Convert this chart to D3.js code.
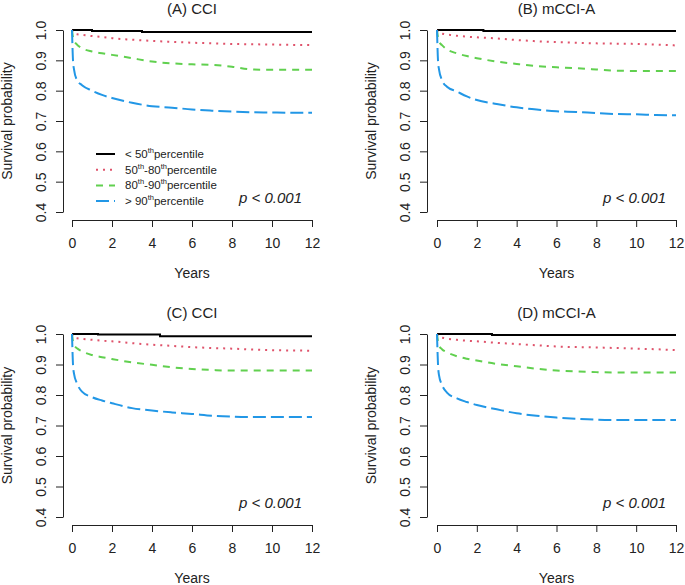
<!DOCTYPE html>
<html>
<head>
<meta charset="utf-8">
<script src="https://cdn.jsdelivr.net/npm/d3@7"></script>
<style>
  body { margin: 0; background: #fff; }
  svg { font-family: "Liberation Sans", Arial, sans-serif; }
</style>
</head>
<body>
<svg id="chart" width="685" height="585"></svg>
<script>
// follow-up times (years) shared by the coloured curves
const years = [0, 0.05, 0.1, 0.25, 0.5, 1, 1.5, 2, 3, 4, 5, 6, 7, 8, 9, 10, 11, 12];
const xTicks = [0, 2, 4, 6, 8, 10, 12];
const yTicks = [0.4, 0.5, 0.6, 0.7, 0.8, 0.9, 1.0];

const panelTitles = ['(A) CCI', '(B) mCCI-A', '(C) CCI', '(D) mCCI-A'];
const pLabel = 'p < 0.001';
// '^' toggles superscript
const legendLabels = ['< 50^th^percentile', '50^th^-80^th^percentile', '80^th^-90^th^percentile', '> 90^th^percentile'];

// < 50th percentile (step curve, own times)
const lt50TimesA = [0, 1, 3.5, 12];
const lt50A = [1, 0.997, 0.993, 0.993];
const lt50TimesB = [0, 2.33, 12];
const lt50B = [1, 0.997, 0.997];
const lt50TimesC = [0, 1.3, 4.4, 12];
const lt50C = [1, 0.998, 0.993, 0.993];
const lt50TimesD = [0, 2.76, 12];
const lt50D = [1, 0.997, 0.997];

// 50th-80th percentile
const p50to80A = [1, 0.99, 0.988, 0.986, 0.984, 0.98, 0.977, 0.973, 0.968, 0.964, 0.961, 0.958, 0.956, 0.954, 0.953, 0.952, 0.951, 0.95];
const p50to80B = [1, 0.992, 0.99, 0.988, 0.985, 0.981, 0.978, 0.976, 0.972, 0.967, 0.963, 0.96, 0.958, 0.956, 0.955, 0.954, 0.952, 0.949];
const p50to80C = [1, 0.99, 0.988, 0.986, 0.984, 0.981, 0.978, 0.976, 0.97, 0.965, 0.961, 0.957, 0.954, 0.952, 0.949, 0.947, 0.946, 0.945];
const p50to80D = [1, 0.992, 0.99, 0.988, 0.985, 0.981, 0.978, 0.976, 0.971, 0.967, 0.963, 0.959, 0.957, 0.956, 0.954, 0.952, 0.95, 0.947];

// 80th-90th percentile
const p80to90A = [1, 0.975, 0.965, 0.952, 0.94, 0.929, 0.923, 0.918, 0.907, 0.896, 0.89, 0.887, 0.885, 0.879, 0.87, 0.869, 0.869, 0.869];
const p80to90B = [1, 0.975, 0.962, 0.95, 0.936, 0.923, 0.914, 0.907, 0.896, 0.888, 0.881, 0.877, 0.874, 0.87, 0.866, 0.865, 0.865, 0.865];
const p80to90C = [1, 0.975, 0.965, 0.953, 0.943, 0.931, 0.924, 0.918, 0.907, 0.899, 0.891, 0.885, 0.882, 0.88, 0.88, 0.88, 0.88, 0.88];
const p80to90D = [1, 0.975, 0.962, 0.95, 0.94, 0.927, 0.919, 0.913, 0.902, 0.894, 0.886, 0.88, 0.877, 0.875, 0.874, 0.874, 0.874, 0.874];

// > 90th percentile
const gt90A = [1, 0.9, 0.87, 0.835, 0.818, 0.8, 0.786, 0.776, 0.76, 0.749, 0.744, 0.738, 0.734, 0.731, 0.729, 0.728, 0.727, 0.727];
const gt90B = [1, 0.9, 0.87, 0.835, 0.813, 0.797, 0.781, 0.769, 0.756, 0.745, 0.738, 0.732, 0.73, 0.726, 0.723, 0.722, 0.72, 0.719];
const gt90C = [1, 0.9, 0.87, 0.838, 0.811, 0.793, 0.782, 0.773, 0.757, 0.749, 0.743, 0.738, 0.732, 0.729, 0.728, 0.728, 0.728, 0.728];
const gt90D = [1, 0.9, 0.865, 0.833, 0.808, 0.789, 0.777, 0.767, 0.753, 0.74, 0.732, 0.726, 0.722, 0.719, 0.718, 0.718, 0.718, 0.718];

// line looks, same order as the legend
const styles = [
  { color: '#000000', dash: null, curve: d3.curveStepAfter },
  { color: '#DF536B', dash: '2,5', curve: d3.curveMonotoneX },
  { color: '#61D04F', dash: '7,6', curve: d3.curveMonotoneX },
  { color: '#2297E6', dash: '13,5', curve: d3.curveMonotoneX }
];

// where each panel sits on the page
const layout = [
  { left: 72, right: 312, top: 30, bottom: 212, axisX: 63, axisY: 220, legend: true },
  { left: 437, right: 676, top: 30, bottom: 212, axisX: 427, axisY: 220, legend: false },
  { left: 72, right: 312, top: 334, bottom: 517, axisX: 63, axisY: 525, legend: false },
  { left: 437, right: 676, top: 334, bottom: 517, axisX: 427, axisY: 525, legend: false }
];

const zip = (t, s) => t.map((d, i) => ({ t: d, s: s[i] }));
const panelSeries = [
  [zip(lt50TimesA, lt50A), zip(years, p50to80A), zip(years, p80to90A), zip(years, gt90A)],
  [zip(lt50TimesB, lt50B), zip(years, p50to80B), zip(years, p80to90B), zip(years, gt90B)],
  [zip(lt50TimesC, lt50C), zip(years, p50to80C), zip(years, p80to90C), zip(years, gt90C)],
  [zip(lt50TimesD, lt50D), zip(years, p50to80D), zip(years, p80to90D), zip(years, gt90D)]
];

const svg = d3.select('#chart');
const ink = '#222';

layout.forEach((p, k) => {
  const x = d3.scaleLinear().domain([0, 12]).range([p.left, p.right]);
  const y = d3.scaleLinear().domain([0.4, 1]).range([p.bottom, p.top]);
  const g = svg.append('g');
  const midX = (p.left + p.right) / 2;
  const midY = (p.top + p.bottom) / 2;

  // x axis
  g.append('g')
    .attr('transform', `translate(0,${p.axisY})`)
    .call(d3.axisBottom(x).tickValues(xTicks).tickSize(7).tickSizeOuter(0).tickFormat(d3.format('d')))
    .attr('font-family', null).attr('font-size', 14)
    .call(a => {
      a.select('.domain').attr('stroke', ink);
      a.selectAll('.tick line').attr('stroke', ink);
      a.selectAll('.tick text').attr('y', 28).attr('dy', null).attr('fill', ink);
    });

  // y axis, labels turned like base R
  g.append('g')
    .attr('transform', `translate(${p.axisX},0)`)
    .call(d3.axisLeft(y).tickValues(yTicks).tickSize(7).tickSizeOuter(0).tickFormat(d3.format('.1f')))
    .attr('font-family', null).attr('font-size', 14)
    .call(a => {
      a.select('.domain').attr('stroke', ink);
      a.selectAll('.tick line').attr('stroke', ink);
      a.selectAll('.tick text')
        .attr('transform', 'rotate(-90)')
        .attr('x', 0).attr('y', -17).attr('dy', null)
        .attr('text-anchor', 'middle').attr('fill', ink);
    });

  // titles
  g.append('text').attr('x', midX).attr('y', p.top - 16)
    .attr('text-anchor', 'middle').attr('font-size', 15).attr('fill', ink)
    .text(panelTitles[k]);
  g.append('text').attr('x', midX).attr('y', p.axisY + 58)
    .attr('text-anchor', 'middle').attr('font-size', 14).attr('fill', ink)
    .text('Years');
  g.append('text')
    .attr('transform', `translate(${p.axisX - 51},${midY}) rotate(-90)`)
    .attr('text-anchor', 'middle').attr('font-size', 14).attr('fill', ink)
    .text('Survival probability');
  g.append('text').attr('x', p.right - 10).attr('y', p.bottom - 9)
    .attr('text-anchor', 'end').attr('font-size', 15).attr('font-style', 'italic').attr('fill', ink)
    .text(pLabel);

  // survival curves
  panelSeries[k].forEach((series, i) => {
    const st = styles[i];
    g.append('path')
      .datum(series)
      .attr('fill', 'none')
      .attr('stroke', st.color)
      .attr('stroke-width', 2)
      .attr('stroke-dasharray', st.dash)
      .attr('d', d3.line().x(d => x(d.t)).y(d => y(d.s)).curve(st.curve));
  });

  if (p.legend) {
    const lg = g.append('g');
    legendLabels.forEach((lab, i) => {
      const by = 158 + i * 15.7;
      lg.append('line')
        .attr('x1', 96).attr('x2', 115).attr('y1', by - 4).attr('y2', by - 4)
        .attr('stroke', styles[i].color).attr('stroke-width', 2)
        .attr('stroke-dasharray', styles[i].dash);
      const t = lg.append('text').attr('x', 125).attr('y', by).attr('font-size', 11.5).attr('fill', ink);
      lab.split('^').forEach((part, j) => {
        if (!part) return;
        const sup = j % 2 === 1;
        t.append('tspan')
          .attr('font-size', sup ? 7.5 : 11.5)
          .attr('dy', sup ? -5 : (j > 0 ? 5 : 0))
          .text(part);
      });
    });
  }
});
</script>
</body>
</html>
